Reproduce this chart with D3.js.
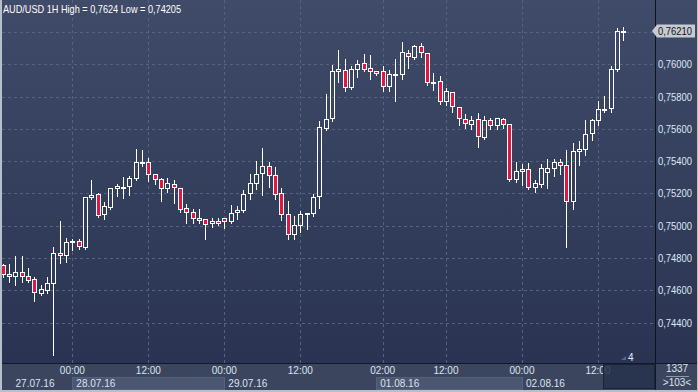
<!DOCTYPE html>
<html>
<head>
<meta charset="utf-8">
<script src="https://cdn.jsdelivr.net/npm/d3@7"></script>
<style>
body{margin:0;background:#2c3654}
svg{display:block}
text{font-family:"Liberation Sans",Arial,sans-serif}
</style>
</head>
<body>
<svg width="698" height="392"></svg>
<script>
// hourly AUD/USD candles, 27.07.16 13:00 .. 02.08.16 ~14:00
var open = [
0.74756,0.74698,0.74686,0.74711,0.74686,0.74667,0.74581,0.74603,0.74643,0.74829,
0.74816,0.74897,0.74903,0.74870,0.75176,0.75194,0.75070,0.75114,0.75232,0.75238,
0.75244,0.75294,0.75393,0.75393,0.75320,0.75287,0.75232,0.75256,0.75232,0.75108,
0.75085,0.75049,0.75039,0.75014,0.75027,0.75045,0.75027,0.75083,0.75095,0.75201,
0.75263,0.75325,0.75368,0.75312,0.75201,0.75070,0.74946,0.75002,0.75070,0.75077,
0.75182,0.75604,0.75666,0.75957,0.75963,0.75858,0.75969,0.76007,0.75975,0.75957,
0.75957,0.75864,0.75935,0.75938,0.76069,0.76044,0.76112,0.76069,0.75889,0.75895,
0.75771,0.75827,0.75734,0.75659,0.75628,0.75659,0.75548,0.75653,0.75622,0.75659,
0.75628,0.75287,0.75337,0.75349,0.75238,0.75256,0.75331,0.75356,0.75393,0.75374,
0.75151,0.75461,0.75473,0.75572,0.75653,0.75721,0.75727,0.75969,0.76205];
var high = [
0.74768,0.74767,0.74818,0.74818,0.74744,0.74686,0.74636,0.74688,0.74874,0.75035,
0.74930,0.74925,0.74923,0.75180,0.75289,0.75207,0.75153,0.75235,0.75263,0.75308,
0.75312,0.75481,0.75473,0.75424,0.75326,0.75300,0.75300,0.75287,0.75238,0.75139,
0.75108,0.75108,0.75040,0.75052,0.75052,0.75046,0.75132,0.75128,0.75225,0.75325,
0.75405,0.75486,0.75399,0.75368,0.75238,0.75157,0.75066,0.75098,0.75085,0.75201,
0.75653,0.75821,0.76000,0.76093,0.76038,0.75994,0.76031,0.76069,0.76062,0.75959,
0.75994,0.75969,0.76038,0.76143,0.76093,0.76124,0.76137,0.76077,0.75951,0.75932,
0.75858,0.75833,0.75740,0.75697,0.75684,0.75703,0.75684,0.75672,0.75668,0.75672,
0.75630,0.75399,0.75387,0.75393,0.75287,0.75387,0.75418,0.75418,0.75418,0.75473,
0.75517,0.75529,0.75659,0.75666,0.75777,0.75808,0.75994,0.76230,0.76240];
var low = [
0.74688,0.74659,0.74638,0.74657,0.74657,0.74541,0.74578,0.74591,0.74205,0.74773,
0.74779,0.74857,0.74863,0.74863,0.75173,0.75060,0.75049,0.75112,0.75190,0.75180,
0.75198,0.75287,0.75378,0.75285,0.75263,0.75157,0.75213,0.75145,0.75089,0.75025,
0.75025,0.75025,0.74925,0.75000,0.75012,0.74990,0.75025,0.75045,0.75091,0.75170,
0.75232,0.75194,0.75244,0.75170,0.75039,0.74922,0.74922,0.74970,0.74987,0.75064,
0.75114,0.75600,0.75653,0.75895,0.75839,0.75852,0.75926,0.75966,0.75914,0.75939,
0.75839,0.75839,0.75777,0.75914,0.75982,0.76043,0.76050,0.75878,0.75850,0.75759,
0.75752,0.75709,0.75628,0.75610,0.75604,0.75492,0.75546,0.75604,0.75604,0.75610,
0.75286,0.75275,0.75256,0.75236,0.75213,0.75244,0.75238,0.75312,0.75325,0.74872,
0.75108,0.75380,0.75442,0.75535,0.75628,0.75709,0.75709,0.75966,0.76155];
var close = [
0.74700,0.74686,0.74711,0.74686,0.74661,0.74587,0.74605,0.74643,0.74829,0.74816,
0.74897,0.74905,0.74872,0.75176,0.75188,0.75068,0.75120,0.75232,0.75244,0.75240,
0.75294,0.75393,0.75395,0.75318,0.75287,0.75232,0.75263,0.75238,0.75101,0.75083,
0.75049,0.75033,0.75012,0.75027,0.75014,0.75027,0.75077,0.75095,0.75194,0.75263,
0.75318,0.75368,0.75312,0.75194,0.75070,0.74946,0.75002,0.75070,0.75077,0.75176,
0.75610,0.75659,0.75957,0.75969,0.75858,0.75969,0.76000,0.75969,0.75957,0.75945,
0.75864,0.75938,0.75938,0.76075,0.76050,0.76112,0.76075,0.75889,0.75892,0.75771,
0.75833,0.75740,0.75666,0.75635,0.75653,0.75554,0.75653,0.75622,0.75666,0.75628,
0.75287,0.75337,0.75349,0.75238,0.75263,0.75356,0.75356,0.75393,0.75374,0.75151,
0.75461,0.75473,0.75566,0.75653,0.75721,0.75723,0.75969,0.76205,0.76210];

var yGrid = [0.744,0.746,0.748,0.750,0.752,0.754,0.756,0.758,0.760,0.762];
var yLabels = [0.744,0.746,0.748,0.750,0.752,0.754,0.756,0.758,0.760];
var xTickIdx = [11,23,35,47,60,70,82,94];
var xTickLabels = ['00:00','12:00','00:00','12:00','02:00','12:00','00:00','12:00'];
var dayIdx = [1.4,11,35,59,82];
var dayLabels = ['27.07.16','28.07.16','29.07.16','01.08.16','02.08.16'];
var dayBoxes = [[11,35],[59,82]];
var title = 'AUD/USD 1H High = 0,7624 Low = 0,74205';

var W = 698, H = 392, plotR = 655, plotB = 363;
var svg = d3.select('svg');

var defs = svg.append('defs');
var grad = defs.append('linearGradient').attr('id','bg').attr('x1',0).attr('y1',0).attr('x2',0).attr('y2',1);
grad.append('stop').attr('offset','0%').attr('stop-color','#3f4b68');
grad.append('stop').attr('offset','100%').attr('stop-color','#2a3452');
defs.append('clipPath').attr('id','plotclip').append('rect')
  .attr('x',2).attr('y',0).attr('width',plotR-2).attr('height',plotB);

svg.append('rect').attr('width',W).attr('height',plotB).attr('fill','url(#bg)');

var x = d3.scaleLinear().domain([0,98]).range([2.7,623.3]);
var y = d3.scaleLinear().domain([0.744,0.762]).range([322.5,32.2]);
var px = function(v){ return Math.round(v)+0.5; };
var fmt = function(v){ return d3.format('.5f')(v).replace('.',','); };

// grid
var grid = svg.append('g').attr('stroke','#56637f').attr('stroke-dasharray','3,3').attr('shape-rendering','crispEdges');
grid.selectAll('line.h').data(yGrid).enter().append('line').attr('class','h')
  .attr('x1',2).attr('x2',plotR).attr('y1',function(d){return px(y(d));}).attr('y2',function(d){return px(y(d));});
grid.selectAll('line.v').data(xTickIdx).enter().append('line').attr('class','v')
  .attr('y1',0).attr('y2',plotB).attr('x1',function(d){return px(x(d));}).attr('x2',function(d){return px(x(d));});

// candles
var idx = d3.range(open.length);
var cg = svg.append('g').attr('clip-path','url(#plotclip)').attr('shape-rendering','crispEdges');
var c = cg.selectAll('g.c').data(idx).enter().append('g').attr('class','c');
c.append('line')
  .attr('x1',function(i){return px(x(i));}).attr('x2',function(i){return px(x(i));})
  .attr('y1',function(i){return px(y(high[i]));})
  .attr('y2',function(i){return px(y(Math.max(open[i],close[i])));})
  .attr('stroke','#fff');
c.append('line')
  .attr('x1',function(i){return px(x(i));}).attr('x2',function(i){return px(x(i));})
  .attr('y1',function(i){return px(y(Math.min(open[i],close[i])));})
  .attr('y2',function(i){return px(y(low[i]))+1;})
  .attr('stroke','#fff');
c.append('rect')
  .attr('x',function(i){return Math.round(x(i))-1.5;})
  .attr('width',4)
  .attr('y',function(i){return px(y(Math.max(open[i],close[i])));})
  .attr('height',function(i){return Math.max(1, px(y(Math.min(open[i],close[i])))-px(y(Math.max(open[i],close[i]))));})
  .attr('fill',function(i){return close[i]<open[i]?'#e2163f':'none';})
  .attr('stroke','#fff').attr('stroke-width',1);

// title
svg.append('text').attr('x',3).attr('y',13).attr('fill','#fff').attr('font-size',11)
  .attr('textLength',178).attr('lengthAdjust','spacingAndGlyphs').text(title);

// right panel
svg.append('line').attr('x1',plotR+0.5).attr('x2',plotR+0.5).attr('y1',0).attr('y2',390)
  .attr('stroke','#0e121c').attr('stroke-width',1);
svg.selectAll('text.yl').data(yLabels).enter().append('text').attr('class','yl')
  .attr('x',658).attr('y',function(d){return y(d)+4;})
  .attr('fill','#dde7f5').attr('font-size',10)
  .attr('textLength',34).attr('lengthAdjust','spacingAndGlyphs').text(fmt);

var last = close[close.length-1], yc = Math.round(y(last));
svg.append('polygon')
  .attr('points',[[652,yc],[657,yc-6.5],[695,yc-6.5],[695,yc+6.5],[657,yc+6.5]].join(' '))
  .attr('fill','#c6cad3');
svg.append('text').attr('x',658).attr('y',yc+4).attr('fill','#111').attr('font-size',10)
  .attr('textLength',34).attr('lengthAdjust','spacingAndGlyphs').text(fmt(last));

// bottom band
svg.append('rect').attr('x',2).attr('y',plotB).attr('width',W-2).attr('height',H-plotB).attr('fill','#3b465e');
svg.append('line').attr('x1',0).attr('x2',W).attr('y1',plotB+0.5).attr('y2',plotB+0.5).attr('stroke','#12172a');
svg.append('line').attr('x1',plotR+0.5).attr('x2',plotR+0.5).attr('y1',plotB).attr('y2',H)
  .attr('stroke','#12172a');
svg.selectAll('rect.day').data(dayBoxes).enter().append('rect').attr('class','day')
  .attr('x',function(d){return px(x(d[0]));}).attr('y',377.5)
  .attr('width',function(d){return Math.round(x(d[1])-x(d[0]));}).attr('height',12)
  .attr('fill','#4b5771').attr('stroke','#56627b');
svg.selectAll('text.xt').data(xTickIdx).enter().append('text').attr('class','xt')
  .attr('x',function(d){return x(d);}).attr('y',374).attr('text-anchor','middle')
  .attr('fill','#dbe3ef').attr('font-size',10)
  .text(function(d,i){return xTickLabels[i];});
svg.selectAll('text.dt').data(dayIdx).enter().append('text').attr('class','dt')
  .attr('x',function(d){return x(d)+4;}).attr('y',387)
  .attr('fill','#dbe3ef').attr('font-size',10)
  .text(function(d,i){return dayLabels[i];});

// scroll window + counter
svg.append('rect').attr('x',603.5).attr('y',364.5).attr('width',51).attr('height',24)
  .attr('fill','#27314b').attr('fill-opacity',0.85).attr('stroke','#1b2336');
svg.append('polygon').attr('points','621,360 626,356 626,360').attr('fill','#5a6680');
svg.append('text').attr('x',628).attr('y',361).attr('fill','#e6ecf5').attr('font-size',10).text('4');

svg.append('text').attr('x',677).attr('y',372).attr('text-anchor','middle').attr('fill','#dbe3ef').attr('font-size',10).text('1337');
svg.append('line').attr('x1',666).attr('x2',689).attr('y1',376.5).attr('y2',376.5).attr('stroke','#8d98ad');
svg.append('text').attr('x',677).attr('y',386).attr('text-anchor','middle').attr('fill','#dbe3ef').attr('font-size',10).text('>103<');

// frame
svg.append('line').attr('x1',1).attr('x2',1).attr('y1',0).attr('y2',H).attr('stroke','#b7bfcb').attr('stroke-width',2);
svg.append('line').attr('x1',0).attr('x2',W).attr('y1',H-1).attr('y2',H-1).attr('stroke','#b7bfcb').attr('stroke-width',2);
svg.append('line').attr('x1',W-0.5).attr('x2',W-0.5).attr('y1',0).attr('y2',H).attr('stroke','#b7bfcb').attr('stroke-width',1);
</script>
</body>
</html>
